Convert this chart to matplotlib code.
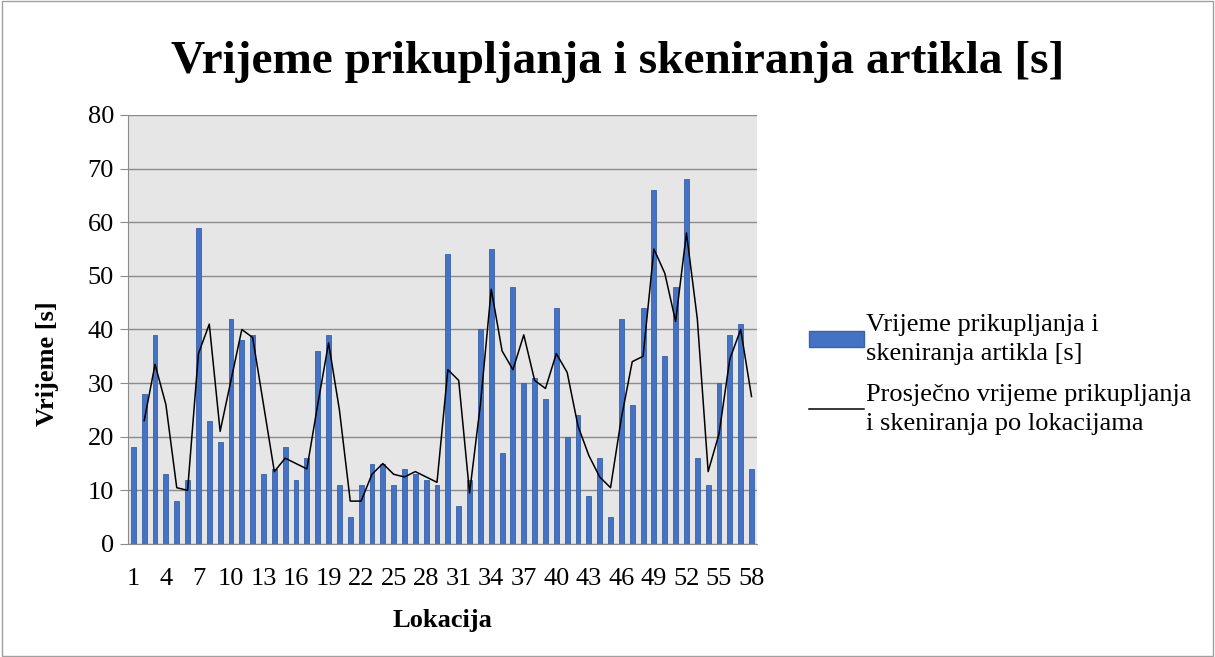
import matplotlib.pyplot as plt
import matplotlib.patches as mpatches
from matplotlib.lines import Line2D

plt.rcParams['font.family'] = ['Liberation Serif', 'DejaVu Serif']

# Data
locations = list(range(1, 59))
times = [18, 28, 39, 13, 8, 12, 59, 23, 19, 42, 38, 39, 13, 14, 18, 12, 16, 36, 39, 11,
         5, 11, 15, 15, 11, 14, 13, 12, 11, 54, 7, 12, 40, 55, 17, 48, 30, 31, 27, 44,
         20, 24, 9, 16, 5, 42, 26, 44, 66, 35, 48, 68, 16, 11, 30, 39, 41, 14]
avg_locations = list(range(2, 59))
avg_times = [23, 33.5, 26, 10.5, 10, 35.5, 41, 21, 30.5, 40, 38.5, 26, 13.5, 16, 15, 14,
             26, 37.5, 25, 8, 8, 13, 15, 13, 12.5, 13.5, 12.5, 11.5, 32.5, 30.5, 9.5, 26,
             47.5, 36, 32.5, 39, 30.5, 29, 35.5, 32, 22, 16.5, 12.5, 10.5, 23.5, 34, 35,
             55, 50.5, 41.5, 58, 42, 13.5, 20.5, 34.5, 40, 27.5]
xtick_labels = list(range(1, 59, 3))

bar_label = "Vrijeme prikupljanja i\nskeniranja artikla [s]"
line_label = "Prosječno vrijeme prikupljanja\ni skeniranja po lokacijama"

fig = plt.figure(figsize=(12.15, 6.57), dpi=100)
ax = fig.add_axes([0.1053, 0.172, 0.5177, 0.653])

ax.set_facecolor('#e6e6e6')
ax.bar(locations, times, width=0.45, color='#4472c4', edgecolor='#3a62a8', linewidth=0.6, zorder=3)
ax.plot(avg_locations, avg_times, color='black', linewidth=1.1, zorder=4)

ax.set_xlim(0.5, 58.5)
ax.set_ylim(0, 80)
ax.set_yticks(range(0, 81, 10))
ax.set_xticks(xtick_labels)
ax.tick_params(axis='x', length=0, labelsize=19, pad=17)
ax.tick_params(axis='y', length=6, color='#8c8c8c', labelsize=19, pad=4)
ax.grid(axis='y', color='#8c8c8c', linewidth=1.0, zorder=1)
for side in ['top', 'right']:
    ax.spines[side].set_visible(False)
ax.spines['left'].set_color('#8c8c8c')
ax.spines['bottom'].set_color('#8c8c8c')

ax.set_xlabel("Lokacija", fontsize=19, fontweight='bold', labelpad=14)
ax.set_ylabel("Vrijeme [s]", fontsize=19, fontweight='bold')
ax.yaxis.set_label_coords(-0.11, 0.42)

fig.text(0.508, 0.889, "Vrijeme prikupljanja i skeniranja artikla [s]",
         ha='center', va='baseline', fontsize=34, fontweight='bold')

handles = [mpatches.Patch(facecolor='#4472c4', edgecolor='#3a62a8', label=bar_label),
           Line2D([], [], color='black', linewidth=1.1, label=line_label)]
leg = fig.legend(handles=handles, loc='center left', bbox_to_anchor=(0.655, 0.43),
                 frameon=False, fontsize=19, handlelength=2.1, handleheight=0.5,
                 handletextpad=0.05, labelspacing=0.7, borderpad=0)
for t in leg.get_texts():
    t.set_linespacing(1.4)

# chart border
fig.patches.append(mpatches.Rectangle((0.002, 0.002), 0.996, 0.996, transform=fig.transFigure,
                                      fill=False, edgecolor='#a0a0a0', linewidth=1))

fig.savefig('out.png', dpi=100)
